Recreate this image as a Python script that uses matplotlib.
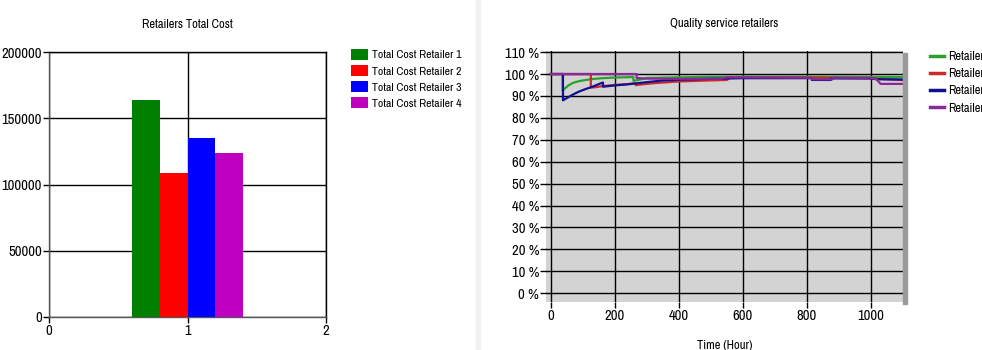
import matplotlib
matplotlib.use("Agg")
import matplotlib.pyplot as plt
from matplotlib.patches import Rectangle

plt.rcParams['font.family'] = ['Archivo Narrow', 'Liberation Sans', 'DejaVu Sans']

# ---------------- data: left chart ----------------
bar_labels = ["Total Cost Retailer 1", "Total Cost Retailer 2",
              "Total Cost Retailer 3", "Total Cost Retailer 4"]
bar_values = [164000, 109000, 135000, 124000]
bar_pos = [0.7, 0.9, 1.1, 1.3]
bar_colors = ["#008000", "#ff0000", "#0000ff", "#c000c0"]
left_yticks = [0, 50000, 100000, 150000, 200000]
left_xticks = [0, 1, 2]

# ---------------- data: right chart ----------------
t_r1 = [0, 37, 37, 42, 55, 70, 90, 110, 130, 160, 200, 258, 258, 270, 300, 400, 500, 600, 800, 1000, 1100]
v_r1 = [100, 100, 92.3, 93.2, 94.8, 96.0, 96.8, 97.3, 97.7, 98.1, 98.4, 98.6, 96.9, 97.2, 98.2, 98.5, 98.7, 98.8, 98.8, 98.7, 98.6]

t_r2 = [0, 125, 125, 140, 162, 200, 240, 265, 265, 280, 320, 400, 480, 550, 560, 700, 800, 1000, 1100]
v_r2 = [100, 100, 93.8, 94.0, 94.5, 95.0, 95.4, 95.8, 94.9, 95.2, 95.8, 96.6, 97.0, 97.3, 98.3, 98.4, 98.4, 98.0, 97.2]

t_r3 = [0, 38, 38, 45, 65, 85, 106, 130, 160, 163, 163, 200, 240, 300, 347, 400, 500, 600, 815, 815, 875, 875, 1000, 1018, 1100]
v_r3 = [100, 100, 88.0, 88.6, 90.3, 91.8, 93.0, 94.2, 96.0, 96.1, 94.2, 94.8, 95.3, 96.3, 97.0, 97.4, 97.8, 98.1, 98.1, 97.3, 97.3, 98.0, 98.0, 97.6, 97.5]

t_r4 = [0, 268, 268, 300, 400, 530, 550, 700, 815, 815, 880, 880, 1000, 1018, 1030, 1100]
v_r4 = [100, 100, 98.2, 97.9, 97.8, 97.9, 98.5, 98.4, 98.3, 97.6, 97.6, 98.3, 98.3, 97.5, 95.5, 95.5]

series_names = ["Retailer1", "Retailer2", "Retailer3", "Retailer4"]
series_t = [t_r1, t_r2, t_r3, t_r4]
series_v = [v_r1, v_r2, v_r3, v_r4]
series_colors = ["#2ca02c", "#cc2a2a", "#101090", "#8a2a9a"]
right_yticks = list(range(0, 111, 10))
right_xticks = [0, 200, 400, 600, 800, 1000]

fig = plt.figure(figsize=(9.82, 3.5), dpi=100)
W, H = 982, 350

def axrect(x0, y0, x1, y1):
    return [x0 / W, 1 - y1 / H, (x1 - x0) / W, (y1 - y0) / H]

# faint separator between panels
fig.patches.append(Rectangle((476 / W, 0), 4 / W, 1, transform=fig.transFigure,
                             color="#f2f2f2", zorder=-5))

# ---------------- left chart ----------------
ax1 = fig.add_axes(axrect(49, 52, 326, 317))
for p, v, c, lab in zip(bar_pos, bar_values, bar_colors, bar_labels):
    ax1.bar(p, v, width=0.2, color=c, label=lab, zorder=3)
ax1.set_xlim(0, 2)
ax1.set_ylim(0, 200000)
ax1.set_xticks(left_xticks)
ax1.set_yticks(left_yticks)
ax1.set_xticklabels([str(x) for x in left_xticks])
ax1.set_yticklabels([str(y) for y in left_yticks])
ax1.grid(True, color="black", linewidth=1.0, zorder=1)
ax1.set_axisbelow(True)
for s in ax1.spines.values():
    s.set_color("black")
    s.set_linewidth(1.0)
ax1.spines['left'].set_color("#555555")
ax1.spines['bottom'].set_color("#555555")
ax1.tick_params(axis='both', direction='out', length=4, width=1, colors='black',
                labelsize=10.5, pad=1)
ax1.set_title("Retailers Total Cost", fontsize=9, pad=17.5)
leg1 = ax1.legend(loc='upper left', bbox_to_anchor=(1.075, 1.03), frameon=False,
                  fontsize=8.5, handlelength=1.4, handleheight=1.05, handletextpad=0.35,
                  labelspacing=0.4, borderaxespad=0)

# ---------------- right chart ----------------
ax2 = fig.add_axes(axrect(546, 51, 903, 302))
ax2.set_facecolor("#d3d3d3")
for t, v, c, n in zip(series_t, series_v, series_colors, series_names):
    ax2.plot(t, v, color=c, linewidth=1.6, label=n, zorder=3)
ax2.set_xlim(-15, 1100)
ax2.set_ylim(-4, 110.5)
ax2.set_xticks(right_xticks)
ax2.set_yticks(right_yticks)
ax2.set_xticklabels([str(x) for x in right_xticks])
ax2.set_yticklabels([f"{y} %" for y in right_yticks])
ax2.grid(True, color="black", linewidth=1.0, zorder=1)
ax2.set_axisbelow(True)
for s in ax2.spines.values():
    s.set_visible(False)
ax2.tick_params(axis='both', direction='out', length=4, width=1, colors='black',
                labelsize=10.5, pad=1)
ax2.set_title("Quality service retailers", fontsize=9, pad=17.5)
ax2.set_xlabel("Time (Hour)", fontsize=9, labelpad=12)
leg2 = ax2.legend(loc='upper left', bbox_to_anchor=(1.063, 1.02), frameon=False,
                  fontsize=9, handlelength=1.1, handletextpad=0.35,
                  labelspacing=0.5, borderaxespad=0)
for line in leg2.get_lines():
    line.set_linewidth(2.5)

# shadow strip on right edge of grey plot area
fig.patches.append(Rectangle((903 / W, 1 - 304 / H), 4 / W, (304 - 53) / H,
                             transform=fig.transFigure, color="#9a9a9a", zorder=0))

fig.savefig("out.png", dpi=100)
